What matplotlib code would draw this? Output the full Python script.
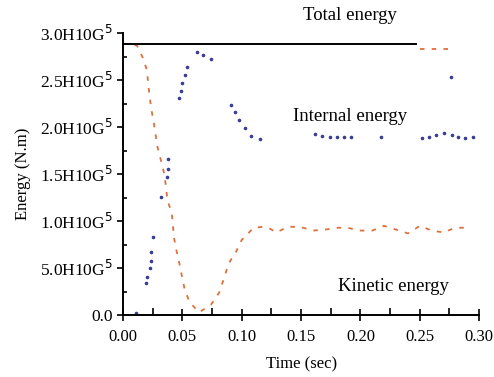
import matplotlib.pyplot as plt
from matplotlib.ticker import MultipleLocator

plt.rcParams['font.family'] = ['Liberation Serif', 'DejaVu Serif']

# total energy (x10^5 N.m)
total_t = [0.0, 0.247]
total_e = [2.89, 2.89]
total_tail_t = [0.25, 0.2625, 0.275]
total_tail_e = [2.83, 2.83, 2.83]

# kinetic energy
kin_t = [0.0, 0.0117, 0.017, 0.02, 0.0225, 0.024, 0.026, 0.029, 0.0325, 0.035,
         0.036, 0.0375, 0.041, 0.042, 0.043, 0.045, 0.0475, 0.05, 0.052, 0.056,
         0.064, 0.074, 0.081, 0.085, 0.089, 0.095, 0.1, 0.11, 0.118, 0.1225,
         0.129, 0.139, 0.149, 0.16, 0.17, 0.181, 0.189, 0.2, 0.21, 0.22,
         0.23, 0.24, 0.25, 0.26, 0.27, 0.28, 0.29]
kin_e = [2.89, 2.87, 2.73, 2.61, 2.32, 2.18, 2.04, 1.79, 1.62, 1.49,
         1.38, 1.22, 1.09, 0.96, 0.82, 0.69, 0.55, 0.39, 0.27, 0.14,
         0.03, 0.11, 0.24, 0.39, 0.55, 0.67, 0.80, 0.93, 0.94, 0.93,
         0.88, 0.94, 0.94, 0.90, 0.91, 0.93, 0.93, 0.90, 0.90, 0.95,
         0.91, 0.87, 0.95, 0.90, 0.88, 0.93, 0.93]

# internal energy (sparse dots)
int_t = [0.011, 0.019, 0.02, 0.023, 0.024, 0.024, 0.025, 0.0317, 0.0367, 0.0375,
         0.038, 0.0475, 0.049, 0.05, 0.052, 0.054, 0.062, 0.0675, 0.074, 0.091,
         0.094, 0.0975, 0.103, 0.108, 0.115, 0.162, 0.168, 0.174, 0.18, 0.186,
         0.192, 0.217, 0.252, 0.258, 0.264, 0.27, 0.276, 0.277, 0.2825, 0.288,
         0.295]
int_e = [0.02, 0.34, 0.41, 0.50, 0.58, 0.67, 0.83, 1.26, 1.47, 1.56,
         1.66, 2.31, 2.39, 2.47, 2.55, 2.64, 2.80, 2.77, 2.72, 2.24,
         2.16, 2.08, 1.99, 1.91, 1.87, 1.93, 1.91, 1.90, 1.90, 1.90,
         1.90, 1.90, 1.89, 1.90, 1.92, 1.94, 2.53, 1.92, 1.90, 1.89,
         1.90]

y_ticks = [0.0, 0.5, 1.0, 1.5, 2.0, 2.5, 3.0]
y_labels = ['0.0', '5.0H10G$^5$', '1.0H10G$^5$', '1.5H10G$^5$',
            '2.0H10G$^5$', '2.5H10G$^5$', '3.0H10G$^5$']
x_ticks = [0.0, 0.05, 0.10, 0.15, 0.20, 0.25, 0.30]

fig = plt.figure(figsize=(4.94, 3.77), dpi=100)
ax = fig.add_axes([0.249, 0.164, 0.721, 0.748])

ax.plot(total_t, total_e, color='black', lw=1.4, zorder=3)
ax.plot(total_tail_t, total_tail_e, color='#e0703a', lw=1.3, ls=(0, (2.5, 4)))
ax.plot(kin_t, kin_e, color='#e0703a', lw=1.3, ls=(0, (2.5, 4)))
ax.plot(int_t, int_e, ls='none', marker='o', ms=1.6, color='#3a3f95')

ax.text(0.191, 3.19, 'Total energy', ha='center', va='center', fontsize=13.5, clip_on=False)
ax.text(0.191, 2.11, 'Internal energy', ha='center', va='center', fontsize=13.5)
ax.text(0.228, 0.30, 'Kinetic energy', ha='center', va='center', fontsize=13.5)

ax.set_xlim(0, 0.30)
ax.set_ylim(0, 3.0)
ax.set_xticks(x_ticks)
ax.set_xticklabels([f'{v:.2f}' for v in x_ticks])
ax.set_yticks(y_ticks)
ax.set_yticklabels(y_labels)
ax.xaxis.set_minor_locator(MultipleLocator(0.025))
ax.yaxis.set_minor_locator(MultipleLocator(0.25))
ax.tick_params(axis='x', which='major', direction='inout', length=8, width=1.2, labelsize=12, pad=6)
ax.tick_params(axis='x', which='minor', direction='in', length=5, width=1.2)
ax.tick_params(axis='y', which='major', direction='out', length=4, width=1.2, labelsize=12.5)
ax.tick_params(axis='y', which='minor', direction='in', length=3, width=1.2)

for s in ['top', 'right']:
    ax.spines[s].set_visible(False)
for s in ['left', 'bottom']:
    ax.spines[s].set_linewidth(1.4)

ax.set_xlabel('Time (sec)', fontsize=12, labelpad=8)
ax.set_ylabel('Energy (N.m)', fontsize=12, labelpad=6)

fig.savefig('out.png', dpi=100)
